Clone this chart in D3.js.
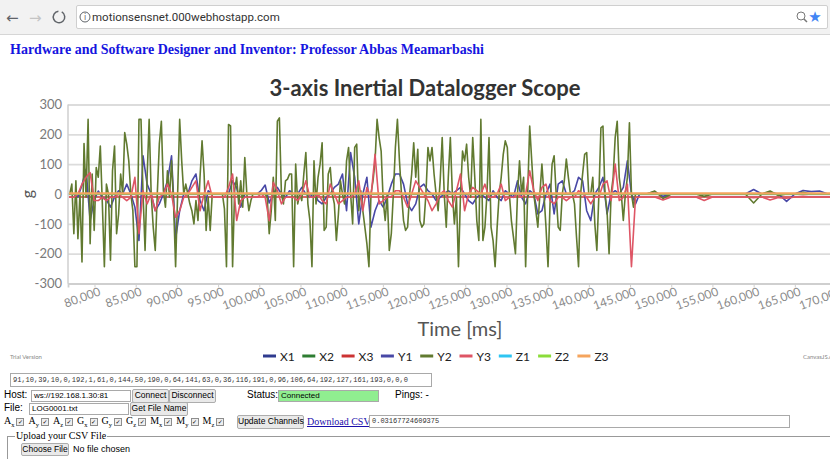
<!DOCTYPE html>
<html>
<head>
<meta charset="utf-8">
<script src="https://cdn.jsdelivr.net/npm/d3@7/dist/d3.min.js"></script>
<style>
  body { margin: 0; width: 830px; height: 459px; overflow: hidden; background: #fff; position: relative;
         font-family: "Liberation Sans", Arial, sans-serif; }
  .abs { position: absolute; white-space: nowrap; }
  #chart { position: absolute; left: 0; top: 0; }
  #toolbar { left: 0; top: 0; width: 830px; height: 34px; background: #f2f2f2; border-bottom: 1px solid #d6d6d6; }
  #omnibox { left: 76px; top: 5px; width: 752px; height: 24px; background: #fff; border: 1px solid #cfcfcf;
             border-radius: 2px; box-sizing: border-box; }
  .url { left: 92px; top: 10px; font-family: Roboto, "Liberation Sans", sans-serif; font-size: 11.5px; color: #333; }
  h3 { margin: 0; left: 10px; top: 42px; font-family: "Liberation Serif", "Times New Roman", serif; font-size: 14px;
       font-weight: bold; color: #1515e0; }
  .lbl { font-size: 10px; color: #000; }
  .box { border: 1px solid #a9a9a9; background: #fff; box-sizing: border-box; font-size: 8px; line-height: 10px;
         padding-left: 2px; color: #000; overflow: hidden; }
  .btn { border: 1px solid #adadad; background: #e9e9e9; border-radius: 2px; box-sizing: border-box; font-size: 8.5px;
         line-height: 11px; text-align: center; color: #000; }
  .mono { font-family: "Liberation Mono", monospace; font-size: 7px; color: #333; }
  .ch { font-family: "Liberation Serif", serif; font-size: 10px; }
  .ch sub { font-size: 6.5px; }
  .cb { display: inline-block; width: 6px; height: 6px; border: 1px solid #8d8d8d; background: #eee; font-size: 6px;
        line-height: 6px; text-align: center; margin: 0 4px 0 2px; vertical-align: 0px; font-family: "DejaVu Sans", sans-serif; }
</style>
</head>
<body>
<svg id="chart"></svg>

<div id="toolbar" class="abs"></div>
<div id="omnibox" class="abs"></div>
<svg class="abs" style="left:0;top:0" width="830" height="34" id="chrome"></svg>
<div class="abs url">motionsensnet.000webhostapp.com</div>
<h3 class="abs">Hardware and Software Designer and Inventor: Professor Abbas Meamarbashi</h3>

<div class="abs box mono" style="left:10px;top:373px;width:422px;height:14px;line-height:12px;">91,10,39,10,0,192,1,61,0,144,50,190,0,64,141,63,0,36,116,191,0,96,106,64,192,127,161,193,0,0,0</div>
<div class="abs lbl" style="left:4px;top:389px;">Host:</div>
<div class="abs box" style="left:31px;top:390px;width:100px;height:12px;">ws://192.168.1.30:81</div>
<div class="abs btn" style="left:132px;top:389px;width:37px;height:14px;">Connect</div>
<div class="abs btn" style="left:169px;top:389px;width:47px;height:14px;">Disconnect</div>
<div class="abs lbl" style="left:247px;top:389px;">Status:</div>
<div class="abs box" style="left:278px;top:390px;width:101px;height:12px;background:#90ee90;">Connected</div>
<div class="abs lbl" style="left:395px;top:389px;">Pings: -</div>
<div class="abs lbl" style="left:4px;top:402px;">File:</div>
<div class="abs box" style="left:29px;top:403px;width:100px;height:12px;">LOG0001.txt</div>
<div class="abs btn" style="left:130px;top:402px;width:58px;height:14px;">Get File Name</div>
<div class="abs ch" style="left:4px;top:415px;">
  A<sub>x</sub><span class="cb">✓</span>A<sub>y</sub><span class="cb">✓</span>A<sub>z</sub><span class="cb">✓</span>G<sub>x</sub><span class="cb">✓</span>G<sub>y</sub><span class="cb">✓</span>G<sub>z</sub><span class="cb">✓</span>M<sub>x</sub><span class="cb">✓</span>M<sub>y</sub><span class="cb">✓</span>M<sub>z</sub><span class="cb">✓</span>
</div>
<div class="abs btn" style="left:237px;top:415px;width:67px;height:14px;">Update Channels</div>
<div class="abs ch" style="left:307px;top:416px;color:#1a0dab;text-decoration:underline;">Download CSV</div>
<div class="abs box mono" style="left:369px;top:415px;width:421px;height:13px;line-height:10px;">0.03167724609375</div>
<div class="abs" style="left:7px;top:436px;width:830px;height:30px;border-top:1px solid #999;border-left:1px solid #999;"></div>
<div class="abs ch" style="left:15px;top:430px;background:#fff;padding:0 1px;">Upload your CSV File</div>
<div class="abs btn" style="left:21px;top:443px;width:48px;height:13px;">Choose File</div>
<div class="abs lbl" style="left:73px;top:444px;font-size:9px;">No file chosen</div>

<script>
// series as logged, time in ms
const seriesNames = ["X1", "X2", "X3", "Y1", "Y2", "Y3", "Z1", "Z2", "Z3"];
const seriesColors = ["#2f3b8f", "#2e7d32", "#cc3333", "#4848a6", "#617a30", "#de5565", "#2ec5f2", "#8bdc3a", "#f5a45d"];

const yTickValues = [-300, -200, -100, 0, 100, 200, 300];
const xTickValues = [80000, 85000, 90000, 95000, 100000, 105000, 110000, 115000, 120000, 125000,
  130000, 135000, 140000, 145000, 150000, 155000, 160000, 165000, 170000];

const activeStart = 77000;
const fastStep = 247;   // Y2 sample period
const slowStep = 494;   // Y1 / Y3 sample period
const tailStart = 147000;
const tailStep = 1000;

const y2Values = [
  0, 33, -133, 44, -150, 0, -228, 169, -11, 250, -167, 67, -122, 89, 56, 161, -33, -244, 33, 0,
  -222, 78, 161, -133, -67, 67, 0, 206, 167, 111, 0, -56, -244, -244, 250, 250, 0, -189, 56, 250,
  0, -111, -189, 0, 167, 244, 11, -44, 78, -11, 111, -33, -244, 0, 250, 111, 0, 33, 0, -33,
  -56, -100, -22, -89, 56, 178, 67, -122, -11, -122, 0, 0, 0,
  0, 0, 0, -50, -244, 233, 228, -244, 11, 56, -33, 44, -44, 122, 0, -56, -22, 0, 0, 0,
  0, 0, 0, 0, -11, -133, -56, 56, -89, 244, 255, 0, -33, 44, 50, 67, 67, -244, 100, -33,
  0, -22, 67, 139, -33, -89, -244, 111, -33, 56, 100, 172, -122, -111, 67, 89, 0, -33, -156, -67,
  44, 0, -33, 111, 156, 0, -100, 156, 167, -56, 11, -56, -111,
  -167, -244, 0, 44, 111, 250, 189, 144, -22, -89, 0, -189, -133, 0, 156, 250, 111, 0, -89, -122,
  -111, 0, 67, 172, 56, 150, -89, -111, -100, 0, 156, 111, 156, 67, 0, -56, 44, 189, 0, -111,
  56, 189, 0, -100, -11, -244, 0, 144, 111, 167, 56, -11, 189, 56, -89, -156, 250, -156, -111, 0,
  189, -111, -156, -244, -111, 0, 56, 133, 178, 156, 0, -89, -144,
  -200, 0, 111, 0, 56, -244, 0, 228, 111, 0, -56, -111, 0, 100, 0, -111, -244, -33, 100, 128,
  0, -111, -122, 0, 44, 117, 56, 0, 0, -33, -144, -244, 0, 67, 133, 139, 0, 0, 56, -100,
  -189, 0, 222, 228, 0, -56, -200, 0, 56, 189, 244, 56, 0, -89, 0, 56, 239, 0, -44, 0
];

const y1Values = [
  0, 0, -10, 30, 83, -89, -20, 10, -11, -20, -44, -10, 11, 0, 33, 0, -44, -156, 128, 33,
  0, -56, -33, 0, 44, 128, -150, -56, 0, 0, 44, 67, -22, -56, 11, 0, 0,
  0, 0, 0, 44, 22, -44, 0, 0, 0, 0, 11, 30, -30, 0, 22, 0, -11, 11, 0, 0,
  22, 0, -11, 5, -22, -33, -11, 0, 22, 33, 67, -56, 139, 56, -100, 0, 56,
  -111, -56, -22, -44, -11, 33, 67, 67, 33, -33, -56, -33, 22, 33, 11, 0, -22, -11, 0, 11,
  0, 11, 22, 0, -22, -33, -11, 0, -11, -22, 11, -11, -22, 11, 0, -11, 44,
  -11, -33, 11, 0, -67, -56, 0, 33, -67, 33, 44, 0, 0, 11, 56, 44, -56, -89, 0, 22,
  56, -67, 0, 11, 0, 22, 111, 0, -33, 0
];

const y3Values = [
  -11, -11, 0, 33, 56, 72, -22, -22, -11, -22, -11, -11, 0, -11, -22, -11, 56, -133, 11, -33,
  0, -56, -11, 0, 33, 0, -78, -56, -11, 0, 22, 44, -56, 0, 44, -11, -11,
  -11, -11, 22, 67, -89, -22, -11, -11, -11, -11, 0, -11, -89, 39, 11, -33, -11, -11, -11, -22,
  0, 44, -11, -11, 0, -22, -33, 33, 0, -33, -22, -11, -11, 0, 44, -56, 22,
  -11, 133, -33, -22, -11, -11, 11, 11, -11, -44, 0, 44, 22, 0, -22, -56, -33, 0, 11, -22,
  -44, 11, 67, -56, 0, 22, 11, 0, 33, -11, -11, 0, 33, -22, -11, -11, 0,
  -11, 0, 78, 11, -22, 22, 33, -22, -33, -11, -11, -22, -11, -11, 11, 0, -11, -33, -11, -11,
  33, 44, -22, 100, -22, -11, 33, -244, -11, -11
];

// quiet part of the log, one sample per second
const y1Tail = [0, 8, -8, 0, 0, 0, 0, 0, 0, 0, 0, 0, 0, 15, 0, 5, 0, -25, 0, 12, 8, 10, 0, 0, 0];
const y2Tail = [0, 10, -15, 0, 0, 0, 0, -8, 0, 0, 0, 0, 0, -30, 0, 10, -5, 0, 0, 6, 0, 0, 0, 0, 0];
const y3Tail = [-10, -10, -20, -10, -10, -10, -10, -22, -10, -10, -10, -10, -10, -12, -10, -20, -12, -14, -10, -8, -10, -10, -10, -10, -10];

// channels that stayed flat
const flatTimes = [76900, 171100];
const x1Values = [0, 0];
const x2Values = [0, 0];
const x3Values = [-10, -10];
const z1Values = [1, 1];
const z2Values = [1, 1];
const z3Values = [2, 2];

function sampled(values, start, step) {
  return values.map((v, i) => ({ t: start + i * step, v: v }));
}
function pairs(times, values) {
  return values.map((v, i) => ({ t: times[i], v: v }));
}

const seriesData = [
  pairs(flatTimes, x1Values),
  pairs(flatTimes, x2Values),
  pairs(flatTimes, x3Values),
  sampled(y1Values, activeStart, slowStep).concat(sampled(y1Tail, tailStart, tailStep)),
  sampled(y2Values, activeStart, fastStep).concat(sampled(y2Tail, tailStart, tailStep)),
  sampled(y3Values, activeStart, slowStep).concat(sampled(y3Tail, tailStart, tailStep)),
  pairs(flatTimes, z1Values),
  pairs(flatTimes, z2Values),
  pairs(flatTimes, z3Values)
];

const font = "Lato, 'Open Sans', sans-serif";
const svg = d3.select('#chart').attr('width', 850).attr('height', 370);

const x = d3.scaleLinear().domain([76784, 171090]).range([68, 845]);
const y = d3.scaleLinear().domain([-300, 300]).range([283.5, 104.5]);

// title
svg.append('text')
  .attr('x', 425).attr('y', 96)
  .attr('text-anchor', 'middle')
  .style('font-family', font).style('font-weight', 'bold').style('font-size', '22px')
  .attr('fill', '#333')
  .text('3-axis Inertial Datalogger Scope');

// y axis + grid
const yAxis = svg.append('g')
  .attr('transform', 'translate(68,0)')
  .call(d3.axisLeft(y).tickValues(yTickValues).tickSize(-777).tickPadding(6).tickFormat(d => String(d)));
yAxis.select('.domain').remove();
yAxis.selectAll('line').attr('stroke', '#dcdcdc').attr('stroke-width', 1.8);
yAxis.selectAll('text').attr('fill', '#7a7a7a').style('font-family', font).style('font-size', '13px');

svg.append('line')
  .attr('x1', 68).attr('x2', 68).attr('y1', y(300)).attr('y2', y(-300))
  .attr('stroke', '#cfcfcf').attr('stroke-width', 1.5);

svg.append('text')
  .attr('transform', 'translate(33,' + y(0) + ') rotate(-90)')
  .attr('text-anchor', 'middle')
  .style('font-family', font).style('font-size', '16px')
  .attr('fill', '#555')
  .text('g');

// x axis
const xAxis = svg.append('g')
  .attr('transform', 'translate(0,' + y(-300) + ')')
  .call(d3.axisBottom(x).tickValues(xTickValues).tickSize(4).tickFormat(d3.format(',')));
xAxis.select('.domain').attr('stroke', '#cfcfcf').attr('stroke-width', 1.8);
xAxis.selectAll('line').attr('stroke', '#cfcfcf');
xAxis.selectAll('text')
  .attr('fill', '#8a8a8a')
  .style('font-family', font).style('font-size', '12px')
  .attr('text-anchor', 'end')
  .attr('dy', '0.9em').attr('y', 2).attr('x', 2)
  .attr('transform', 'rotate(-20)');

svg.append('text')
  .attr('x', 460).attr('y', 336)
  .attr('text-anchor', 'middle')
  .style('font-family', font).style('font-size', '20px')
  .attr('fill', '#555')
  .text('Time [ms]');

// data lines
const line = d3.line().x(d => x(d.t)).y(d => y(d.v));
const plot = svg.append('g');
plot.selectAll('path')
  .data(seriesData)
  .enter()
  .append('path')
  .attr('d', d => line(d))
  .attr('fill', 'none')
  .attr('stroke', (d, i) => seriesColors[i])
  .attr('stroke-width', (d, i) => (i === 8 ? 2.2 : 1.6))
  .attr('stroke-linejoin', 'round');

// legend
const legend = svg.append('g')
  .selectAll('g')
  .data(seriesNames)
  .enter()
  .append('g')
  .attr('transform', (d, i) => 'translate(' + (263 + i * 39.3) + ',356)');
legend.append('line')
  .attr('x1', 0).attr('x2', 13).attr('y1', 0).attr('y2', 0)
  .attr('stroke', (d, i) => seriesColors[i]).attr('stroke-width', 3);
legend.append('text')
  .attr('x', 17).attr('y', 4.5)
  .style('font-family', font).style('font-size', '12px')
  .attr('fill', '#222')
  .text(d => d);

svg.append('text').attr('x', 10).attr('y', 359)
  .style('font-family', font).style('font-size', '6px').attr('fill', '#888').text('Trial Version');
svg.append('text').attr('x', 803).attr('y', 359)
  .style('font-family', font).style('font-size', '6px').attr('fill', '#888').text('CanvasJS.com');

// browser chrome icons
const chrome = d3.select('#chrome');
chrome.append('text').attr('x', 6).attr('y', 23).style('font-family', 'DejaVu Sans').style('font-size', '15px')
  .attr('fill', '#5f6368').text('←');
chrome.append('text').attr('x', 29).attr('y', 23).style('font-family', 'DejaVu Sans').style('font-size', '15px')
  .attr('fill', '#c4c4c4').text('→');
chrome.append('path').attr('d', d3.arc()({ innerRadius: 5, outerRadius: 6.5, startAngle: 0.5, endAngle: 2 * Math.PI - 0.1 }))
  .attr('transform', 'translate(59,17)').attr('fill', '#5f6368');
chrome.append('circle').attr('cx', 85).attr('cy', 17).attr('r', 5).attr('fill', 'none').attr('stroke', '#5f6368');
chrome.append('text').attr('x', 85).attr('y', 20).attr('text-anchor', 'middle')
  .style('font-family', 'DejaVu Sans').style('font-size', '8px').attr('fill', '#5f6368').text('i');
chrome.append('circle').attr('cx', 801).attr('cy', 16).attr('r', 4).attr('fill', 'none').attr('stroke', '#777');
chrome.append('line').attr('x1', 804).attr('y1', 19).attr('x2', 807).attr('y2', 22).attr('stroke', '#777').attr('stroke-width', 1.5);
chrome.append('text').attr('x', 815).attr('y', 22).attr('text-anchor', 'middle')
  .style('font-family', 'DejaVu Sans').style('font-size', '15px').attr('fill', '#4285f4').text('★');
</script>
</body>
</html>
